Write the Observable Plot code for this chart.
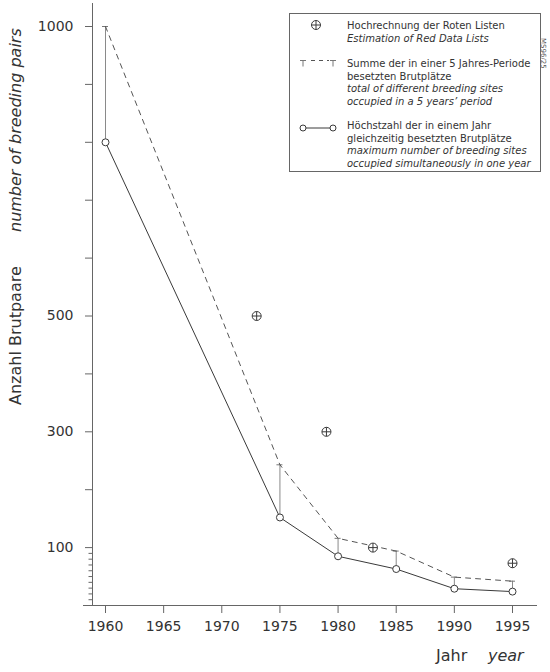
<!DOCTYPE html>
<html>
<head>
<meta charset="utf-8">
<script src="https://cdn.jsdelivr.net/npm/d3@7"></script>
<script src="https://cdn.jsdelivr.net/npm/@observablehq/plot@0.6"></script>
<style>
  html, body { margin: 0; padding: 0; background: #fff; }
  svg { display: block; }
</style>
</head>
<body>
<div id="chart"></div>
<script>
// ---- data ----
const years = [1960, 1975, 1980, 1985, 1990, 1995];
const maxPairs = [800, 152, 85, 63, 29, 24];     // Höchstzahl gleichzeitig besetzter Brutplätze
const sumPairs = [1000, 243, 116, 94, 49, 42];   // Summe in einer 5-Jahres-Periode
const redYears = [1973, 1979, 1983, 1995];
const redValues = [500, 300, 100, 73];           // Hochrechnung der Roten Listen
const xTicks = [1960, 1965, 1970, 1975, 1980, 1985, 1990, 1995];
const yMajorTicks = [100, 200, 300, 400, 500, 600, 700, 800, 900, 1000];
const yLabeled = [100, 300, 500, 1000];
const yMinorTicks = [10, 20, 30, 40, 50, 60, 70, 80, 90];

const legendItems = [
  { de: ["Hochrechnung der Roten Listen"], en: ["Estimation of Red Data Lists"] },
  { de: ["Summe der in einer 5 Jahres-Periode", "besetzten Brutplätze"],
    en: ["total of different breeding sites", "occupied in a 5 years’ period"] },
  { de: ["Höchstzahl der in einem Jahr", "gleichzeitig besetzten Brutplätze"],
    en: ["maximum number of breeding sites", "occupied simultaneously in one year"] }
];

const maxData = years.map((y, i) => ({ year: y, value: maxPairs[i] }));
const sumData = years.map((y, i) => ({ year: y, value: sumPairs[i] }));
const connData = years.map((y, i) => ({ year: y, lo: maxPairs[i], hi: sumPairs[i] }));
const redData = redYears.map((y, i) => ({ year: y, value: redValues[i] }));

const circlePlus = {
  draw(ctx, size) {
    const r = Math.sqrt(size / Math.PI);
    ctx.moveTo(r, 0);
    ctx.arc(0, 0, r, 0, 2 * Math.PI);
    ctx.moveTo(-r, 0); ctx.lineTo(r, 0);
    ctx.moveTo(0, -r); ctx.lineTo(0, r);
  }
};

const ink = "#3a3a3a";
const axisInk = "#666";

const plot = Plot.plot({
  width: 550,
  height: 672,
  marginLeft: 92,
  marginRight: 13,
  marginTop: 3,
  marginBottom: 67,
  style: { fontFamily: "DejaVu Sans", color: "#333", background: "#fff" },
  x: { domain: [1960, 1995], insetLeft: 13, insetRight: 25, label: null },
  y: { domain: [0, 1000], insetTop: 23, label: null },
  marks: [
    Plot.frame({ anchor: "left", stroke: axisInk }),
    Plot.ruleY([0], { insetLeft: -9, stroke: axisInk }),
    Plot.axisY(yMajorTicks, {
      tickSize: 7, tickPadding: 12, stroke: axisInk, fill: "#333", fontSize: 14,
      tickFormat: d => yLabeled.includes(d) ? String(d) : ""
    }),
    Plot.axisY(yMinorTicks, { tickSize: 3.5, stroke: axisInk, tickFormat: () => "" }),
    Plot.axisX(xTicks, {
      tickSize: 8, tickPadding: 8, stroke: axisInk, fill: "#333", fontSize: 14,
      tickFormat: d => String(d)
    }),
    // connectors between max and sum
    Plot.ruleX(connData, { x: "year", y1: "lo", y2: "hi", stroke: "#8a8a8a", strokeWidth: 1 }),
    // T caps
    Plot.ruleY(sumData, { x1: "year", x2: "year", y: "value", insetLeft: -3, insetRight: -3, stroke: "#777" }),
    // dashed sum line
    Plot.line(sumData, { x: "year", y: "value", stroke: "#555", strokeWidth: 1, strokeDasharray: "5,5" }),
    // solid max line
    Plot.line(maxData, { x: "year", y: "value", stroke: ink, strokeWidth: 1 }),
    Plot.dot(maxData, { x: "year", y: "value", r: 3.5, fill: "white", stroke: ink, strokeWidth: 1 }),
    // red list estimates
    Plot.dot(redData, { x: "year", y: "value", r: 4.5, symbol: circlePlus, fill: "white", stroke: ink, strokeWidth: 1 })
  ]
});

document.getElementById("chart").appendChild(plot);

// ---- annotations ----
const svg = d3.select(plot);
const g = svg.append("g").attr("font-family", "DejaVu Sans").attr("fill", "#333").attr("text-anchor", "start");

// y axis titles (rotated)
g.append("text")
  .attr("transform", "translate(21,405) rotate(-90)")
  .attr("font-size", 16)
  .text("Anzahl Brutpaare");
g.append("text")
  .attr("transform", "translate(21,232) rotate(-90)")
  .attr("font-size", 16)
  .attr("font-style", "italic")
  .text("number of breeding pairs");

// x axis title
g.append("text").attr("x", 436).attr("y", 661).attr("font-size", 16).text("Jahr");
g.append("text").attr("x", 488).attr("y", 661).attr("font-size", 16).attr("font-style", "italic").text("year");

// small code
g.append("text")
  .attr("transform", "translate(541,38) rotate(90)")
  .attr("font-size", 7)
  .attr("fill", "#555")
  .text("MS96/25");

// legend
const lg = svg.append("g").attr("font-family", "DejaVu Sans").attr("text-anchor", "start");
lg.append("rect").attr("x", 289.5).attr("y", 13.5).attr("width", 251).attr("height", 158)
  .attr("fill", "white").attr("stroke", "#666");

const lineH = 12.5;
const blockTop = [29, 67, 129];
legendItems.forEach((item, k) => {
  let yy = blockTop[k];
  item.de.forEach(s => {
    lg.append("text").attr("x", 347).attr("y", yy).attr("font-size", 10).attr("fill", "#333").text(s);
    yy += lineH;
  });
  item.en.forEach(s => {
    lg.append("text").attr("x", 347).attr("y", yy).attr("font-size", 10).attr("font-style", "italic").attr("fill", "#333").text(s);
    yy += lineH;
  });
});

// legend symbols
const cx = 316, cy = 25, rr = 4.5;
lg.append("circle").attr("cx", cx).attr("cy", cy).attr("r", rr).attr("fill", "white").attr("stroke", ink);
lg.append("path").attr("d", `M${cx - rr},${cy}H${cx + rr}M${cx},${cy - rr}V${cy + rr}`).attr("stroke", ink);
const ty = 60.5;
[303, 333].forEach(x => {
  lg.append("path").attr("d", `M${x - 3},${ty}H${x + 3}M${x},${ty}V${ty + 6}`).attr("stroke", "#777");
});
lg.append("line").attr("x1", 309).attr("x2", 329).attr("y1", ty).attr("y2", ty)
  .attr("stroke", "#555").attr("stroke-dasharray", "4,4").attr("stroke-dashoffset", -2);
const oy = 128;
lg.append("line").attr("x1", 306).attr("x2", 330).attr("y1", oy).attr("y2", oy).attr("stroke", ink);
[303, 333].forEach(x => {
  lg.append("circle").attr("cx", x).attr("cy", oy).attr("r", 3).attr("fill", "white").attr("stroke", ink);
});
</script>
</body>
</html>
